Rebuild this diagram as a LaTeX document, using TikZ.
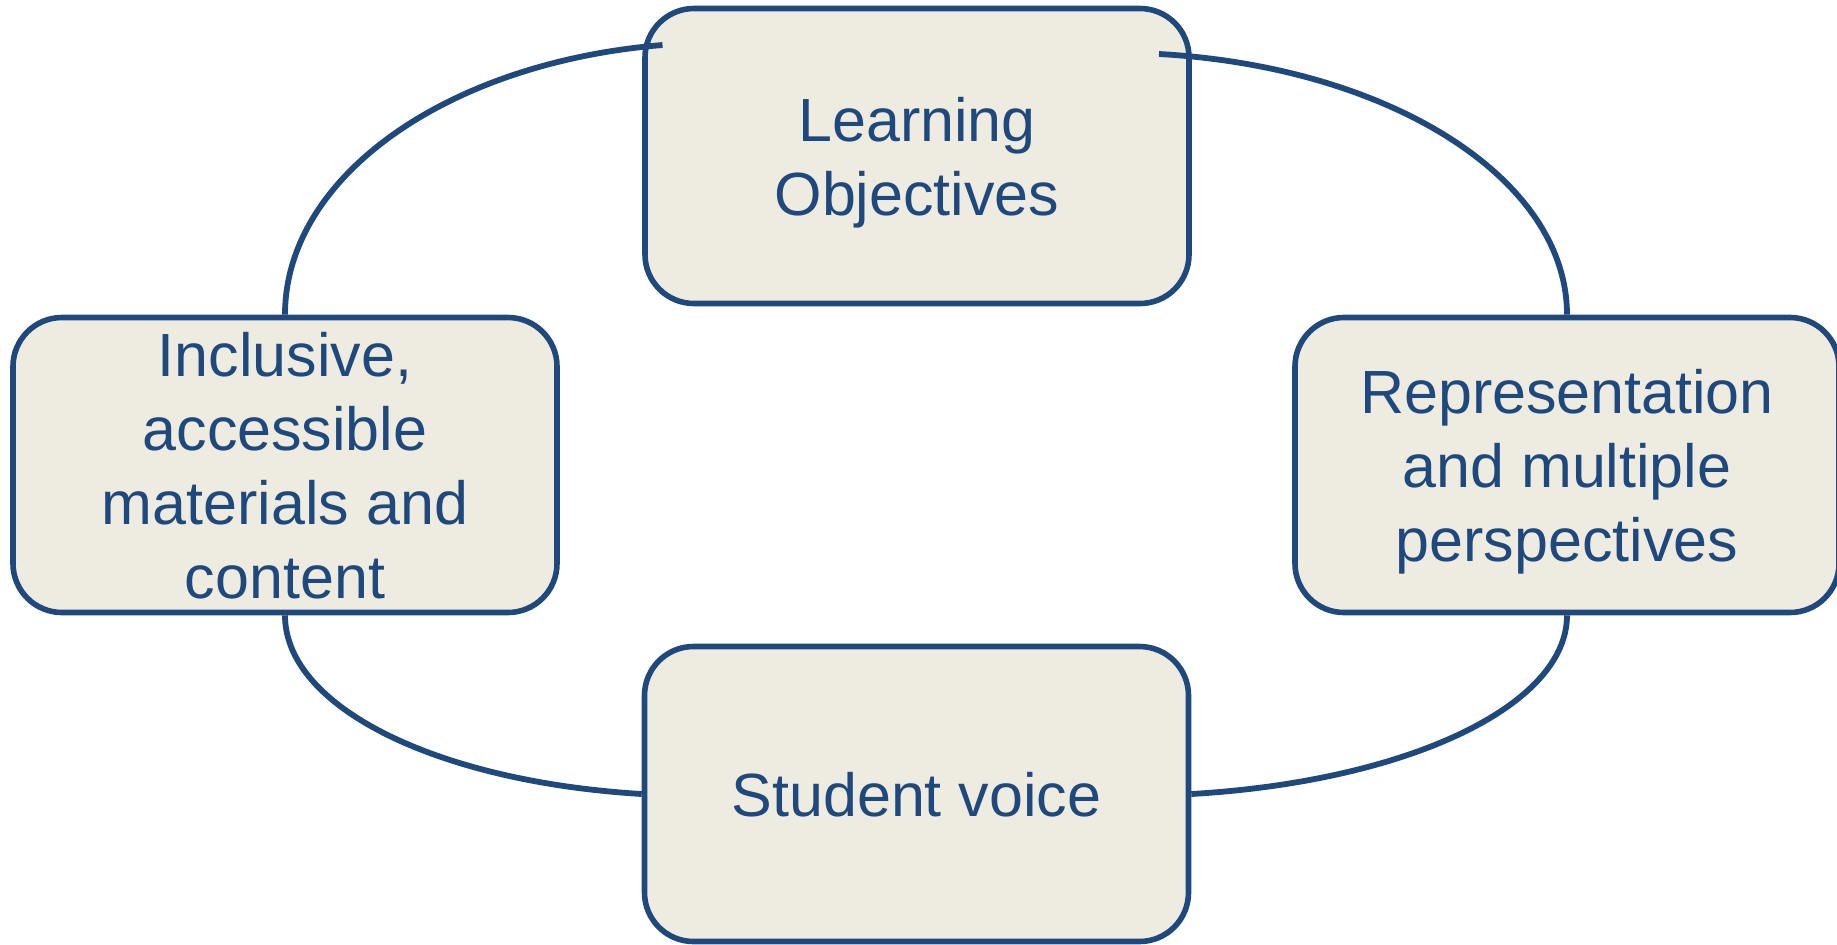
\documentclass[tikz,border=0pt]{standalone}
\usepackage{fontspec}
\setmainfont{Liberation Sans}
\definecolor{ringblue}{RGB}{31,73,125}
\definecolor{boxfill}{RGB}{238,236,225}
\begin{document}
\begin{tikzpicture}[x=0.5pt,y=-0.5pt,
  topic/.style={draw=ringblue, fill=boxfill, line width=2.8pt,
    rounded corners=24.5pt, minimum width=272pt, minimum height=147.5pt,
    inner sep=0pt, align=center, text=ringblue, text depth=0pt,
    font=\fontsize{30.5pt}{37pt}\selectfont},
  ring/.style={draw=ringblue, line width=2.9pt}]
\useasboundingbox (0,0) rectangle (1837,944);

% the four topics of the cycle
\node[topic] (obj) at (917,156) {Learning\\Objectives};
\node[topic] (inc) at (285,465) {Inclusive,\\accessible\\materials and\\content};
\node[topic] (rep) at (1567,465) {Representation\\and multiple\\perspectives};
\node[topic] (stu) at (916.5,794) {Student voice};

% free ends of the upper arcs, just inside the top box
\coordinate (objW) at (662.5,45);
\coordinate (objE) at (1159,54);

% elliptical arcs joining the topics
\draw[ring] (inc.north) .. controls +(0,-137.8) and +(-215.6,17.6) .. (objW);
\draw[ring] (rep.north) .. controls +(0,-136.3) and +(230.4,12.7) .. (objE);
\draw[ring] (inc.south) .. controls +(0,91.5) and +(-205.4,-12.4) .. (stu.west);
\draw[ring] (rep.south) .. controls +(0,90.8) and +(215.3,-12.5) .. (stu.east);
\end{tikzpicture}
\end{document}
